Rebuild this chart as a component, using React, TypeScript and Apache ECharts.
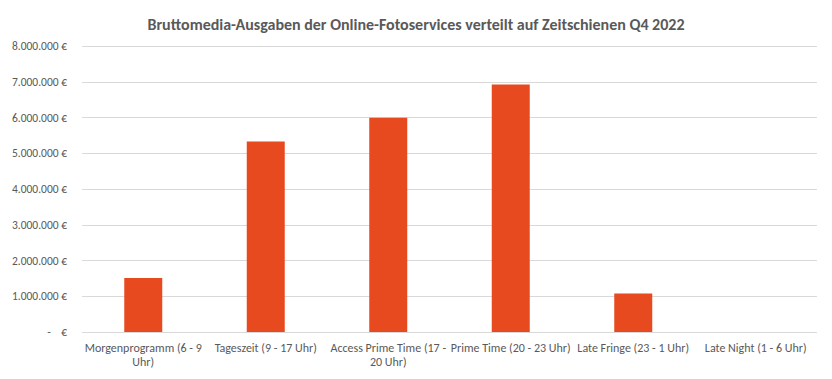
import React, { useEffect, useRef } from "react";
import * as echarts from "echarts";

const titleText = "Bruttomedia-Ausgaben der Online-Fotoservices verteilt auf Zeitschienen Q4 2022";
const categories = [
  "Morgenprogramm (6 - 9\nUhr)",
  "Tageszeit (9 - 17 Uhr)",
  "Access Prime Time (17 -\n20 Uhr)",
  "Prime Time (20 - 23 Uhr)",
  "Late Fringe (23 - 1 Uhr)",
  "Late Night (1 - 6 Uhr)",
];
const spend = [1510000, 5330000, 5990000, 6920000, 1080000, 0];
const yMin = 0;
const yMax = 8000000;
const yStep = 1000000;

const FONT = "Carlito, Calibri, 'Liberation Sans', Arial, sans-serif";

function fmtEuro(v: number): string {
  if (v === 0) return "-    €";
  return String(Math.round(v)).replace(/\B(?=(\d{3})+(?!\d))/g, ".") + " €";
}

export default function App() {
  const ref = useRef<HTMLDivElement>(null);
  useEffect(() => {
    if (!ref.current) return;
    const chart = echarts.init(ref.current, null, { renderer: "svg" });
    chart.setOption({
      animation: false,
      backgroundColor: "#ffffff",
      title: {
        text: titleText,
        left: "center",
        top: 11,
        textStyle: { fontFamily: FONT, fontSize: 16, fontWeight: "bold", color: "#595959" },
      },
      grid: { left: 82, right: 15, top: 46, bottom: 47, containLabel: false },
      xAxis: {
        type: "category",
        data: categories,
        axisLine: { show: false },
        axisTick: { show: false },
        axisLabel: {
          interval: 0,
          margin: 9,
          fontFamily: FONT,
          fontSize: 12,
          color: "#595959",
          lineHeight: 14,
        },
      },
      yAxis: {
        type: "value",
        min: yMin,
        max: yMax,
        interval: yStep,
        axisLine: { show: false },
        axisTick: { show: false },
        splitLine: { lineStyle: { color: "#d9d9d9", width: 1 } },
        axisLabel: {
          margin: 15,
          fontFamily: FONT,
          fontSize: 11.5,
          color: "#595959",
          formatter: (v: number) => fmtEuro(v),
        },
      },
      series: [
        {
          type: "bar",
          data: spend,
          barWidth: 38,
          itemStyle: { color: "#E84A1F" },
        },
      ],
    });
    return () => chart.dispose();
  }, []);
  return (
    <div
      ref={ref}
      style={{ position: "fixed", left: 0, top: 0, width: 832, height: 379 }}
    />
  );
}
